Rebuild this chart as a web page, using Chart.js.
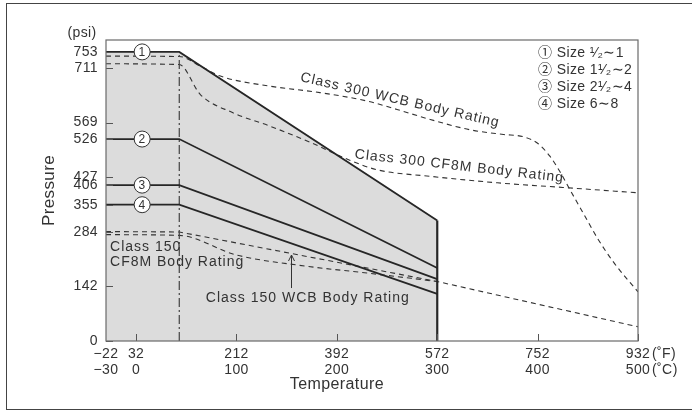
<!DOCTYPE html>
<html>
<head>
<meta charset="utf-8">
<script src="https://cdn.jsdelivr.net/npm/chart.js@4.4.1/dist/chart.umd.min.js"></script>
<style>
  html, body { margin: 0; padding: 0; background: #fff; }
  #wrap { position: relative; width: 692px; height: 414px; overflow: hidden; }
  #frame { position: absolute; left: 6px; top: 3px; width: 700px; height: 407px; border: 1.5px solid #444; box-sizing: border-box; pointer-events: none; }
</style>
</head>
<body>
<div id="wrap"><canvas id="c" width="692" height="414"></canvas><div id="frame"></div></div>
<script>
const FONT = "'Liberation Sans', Arial, 'Noto Sans CJK JP', sans-serif";
const INK = '#262626';
const TXT = '#333';

// x axis: positions in °C, labels in °F over °C
const tickC = [-30, 0, 100, 200, 300, 400, 500];
const tickF = ['−22', '32', '212', '392', '572', '752', '932'];
const tickCLabel = ['−30', '0', '100', '200', '300', '400', '500'];
const pressureTicks = [0, 142, 284, 355, 406, 427, 526, 569, 711, 753];

// valve ratings per size (solid)
const sizeTemp = [-30, 43, 300];
const size1 = [753, 753, 314];
const size2 = [526, 526, 190];
const size3 = [406, 406, 161];
const size4 = [355, 355, 123];
const sizeMarkTemp = 6;
const sizeLegend = ['① Size ¹⁄₂∼1', '② Size 1¹⁄₂∼2', '③ Size 2¹⁄₂∼4', '④ Size 6∼8'];

// body ratings (dashed)
const wcb300Temp = [-30, 43, 64, 84, 133, 183, 230, 260, 293, 333, 366, 386, 400, 412, 422, 432, 445, 460, 476, 500];
const wcb300 = [742, 741, 716, 690, 664, 647, 625, 603, 577, 550, 538, 532, 515, 482, 442, 395, 335, 266, 204, 128];
const cf8m300Temp = [-30, 43, 64, 96, 133, 173, 210, 240, 293, 360, 425, 500];
const cf8m300 = [722, 720, 642, 595, 560, 518, 474, 446, 429, 412, 400, 386];
const wcb150Temp = [-30, 43, 300, 500];
const wcb150 = [285, 284, 155, 37];
const cf8m150Temp = [-30, 43, 100, 163, 230, 300];
const cf8m150 = [277, 275, 224, 197, 177, 155];

function series(temps, values) {
  return temps.map((t, i) => ({ x: t, y: values[i] }));
}

const solid = { borderColor: INK, borderWidth: 1.8, pointRadius: 0, tension: 0, fill: false };
const dashed = { borderColor: '#333', borderWidth: 1.1, borderDash: [5, 4], pointRadius: 0, fill: false };

const notes = {
  id: 'notes',
  beforeDraw(chart) {
    chart.ctx.letterSpacing = '0.4px';
  },
  afterDatasetsDraw(chart) {
    const { ctx, chartArea: a, scales: { x, y } } = chart;
    ctx.save();

    // inward tick marks
    ctx.strokeStyle = '#555';
    ctx.lineWidth = 1;
    ctx.setLineDash([]);
    for (const v of pressureTicks) {
      const py = Math.round(y.getPixelForValue(v)) + 0.5;
      ctx.beginPath(); ctx.moveTo(a.left, py); ctx.lineTo(a.left + 7, py); ctx.stroke();
    }
    for (const v of tickC.slice(1)) {
      const px = Math.round(x.getPixelForValue(v)) + 0.5;
      ctx.beginPath(); ctx.moveTo(px, a.bottom); ctx.lineTo(px, a.bottom - 7); ctx.stroke();
    }

    // plot frame
    ctx.strokeStyle = '#6a6a6a';
    ctx.lineWidth = 1.2;
    ctx.strokeRect(a.left, a.top, a.right - a.left, a.bottom - a.top);

    ctx.fillStyle = TXT;
    ctx.font = '14px ' + FONT;
    ctx.textBaseline = 'middle';

    // unit labels
    ctx.textAlign = 'center';
    ctx.fillText('(psi)', a.left - 24, a.top - 7);
    ctx.textAlign = 'left';
    ctx.fillText('(˚F)', a.right + 14, a.bottom + 13);
    ctx.fillText('(˚C)', a.right + 14, a.bottom + 29);

    // x axis title, under the 392 °F / 200 °C tick
    ctx.font = '16px ' + FONT;
    ctx.textAlign = 'center';
    ctx.fillText('Temperature', x.getPixelForValue(tickC[3]), a.bottom + 44);

    // size markers on the lines
    [size1, size2, size3, size4].forEach((s, i) => {
      const px = x.getPixelForValue(sizeMarkTemp);
      const py = y.getPixelForValue(s[0]);
      ctx.beginPath();
      ctx.arc(px, py, 8, 0, Math.PI * 2);
      ctx.fillStyle = '#fff'; ctx.fill();
      ctx.strokeStyle = '#333'; ctx.lineWidth = 1; ctx.stroke();
      ctx.fillStyle = TXT;
      ctx.font = '12px ' + FONT;
      ctx.textAlign = 'center';
      ctx.fillText(String(i + 1), px, py + 0.5);
    });

    // size legend
    ctx.font = '14px ' + FONT;
    ctx.textAlign = 'left';
    sizeLegend.forEach((t, i) => ctx.fillText(t, a.right - 100, a.top + 13 + i * 17));

    // rotated body rating labels
    ctx.letterSpacing = '1px';
    const rotated = (text, t, p, deg) => {
      ctx.save();
      ctx.translate(x.getPixelForValue(t), y.getPixelForValue(p));
      ctx.rotate(deg * Math.PI / 180);
      ctx.textAlign = 'center';
      ctx.fillText(text, 0, 0);
      ctx.restore();
    };
    rotated('Class 300 WCB Body Rating', 263, 627, 13);
    rotated('Class 300 CF8M Body Rating', 322, 455, 6.5);

    // class 150 labels
    ctx.textAlign = 'left';
    const lx = x.getPixelForValue(-26);
    ctx.fillText('Class 150', lx, y.getPixelForValue(245));
    ctx.fillText('CF8M Body Rating', lx, y.getPixelForValue(206));
    ctx.textAlign = 'center';
    ctx.fillText('Class 150 WCB Body Rating', x.getPixelForValue(171), y.getPixelForValue(112));

    // arrow to the WCB class 150 line
    const ax = Math.round(x.getPixelForValue(154)) + 0.5;
    const ay0 = y.getPixelForValue(138), ay1 = y.getPixelForValue(224);
    ctx.strokeStyle = '#333'; ctx.lineWidth = 1;
    ctx.beginPath();
    ctx.moveTo(ax, ay0); ctx.lineTo(ax, ay1);
    ctx.moveTo(ax - 3, ay1 + 6); ctx.lineTo(ax, ay1); ctx.lineTo(ax + 3, ay1 + 6);
    ctx.stroke();

    ctx.restore();
  }
};

new Chart(document.getElementById('c'), {
  type: 'line',
  data: {
    datasets: [
      { ...solid, data: series(sizeTemp, size1), fill: 'origin', backgroundColor: '#dcdcdc' },
      { ...solid, borderWidth: 2.2, data: series([sizeTemp[2], sizeTemp[2]], [0, size1[2]]) },
      { ...solid, data: series(sizeTemp, size2) },
      { ...solid, data: series(sizeTemp, size3) },
      { ...solid, data: series(sizeTemp, size4) },
      { ...solid, borderColor: '#444', borderWidth: 1.2, borderDash: [9, 3, 2, 3], data: series([sizeTemp[1], sizeTemp[1]], [0, size1[1]]) },
      { ...dashed, cubicInterpolationMode: 'monotone', data: series(wcb300Temp, wcb300) },
      { ...dashed, cubicInterpolationMode: 'monotone', data: series(cf8m300Temp, cf8m300) },
      { ...dashed, tension: 0, data: series(wcb150Temp, wcb150) },
      { ...dashed, cubicInterpolationMode: 'monotone', data: series(cf8m150Temp, cf8m150) },
    ]
  },
  options: {
    responsive: false,
    animation: false,
    layout: { padding: { left: 0, right: 54, top: 40, bottom: 0 } },
    plugins: {
      legend: { display: false },
      tooltip: { enabled: false },
      filler: { drawTime: 'beforeDatasetsDraw' }
    },
    scales: {
      x: {
        type: 'linear',
        min: -30,
        max: 500,
        afterBuildTicks: s => { s.ticks = tickC.map(v => ({ value: v })); },
        afterFit: s => { s.height = 73; s.paddingLeft = 0; s.paddingRight = 0; },
        grid: { display: false, drawTicks: false },
        border: { display: false },
        ticks: {
          autoSkip: false,
          maxRotation: 0,
          padding: 5,
          color: TXT,
          font: { family: FONT, size: 14, lineHeight: 1.15 },
          callback: (v) => { const i = tickC.indexOf(v); return [tickF[i], tickCLabel[i]]; }
        },
        title: { display: false }
      },
      y: {
        type: 'linear',
        min: 0,
        max: 784,
        afterBuildTicks: s => { s.ticks = pressureTicks.map(v => ({ value: v })); },
        afterFit: s => { s.width = 106; s.paddingTop = 0; s.paddingBottom = 0; },
        grid: { display: false, drawTicks: false },
        border: { display: false },
        ticks: { autoSkip: false, padding: 8, color: TXT, font: { family: FONT, size: 14 } },
        title: { display: true, text: 'Pressure', color: TXT, font: { family: FONT, size: 17 }, padding: { top: 39, bottom: 0 } }
      }
    }
  },
  plugins: [notes]
});
</script>
</body>
</html>
